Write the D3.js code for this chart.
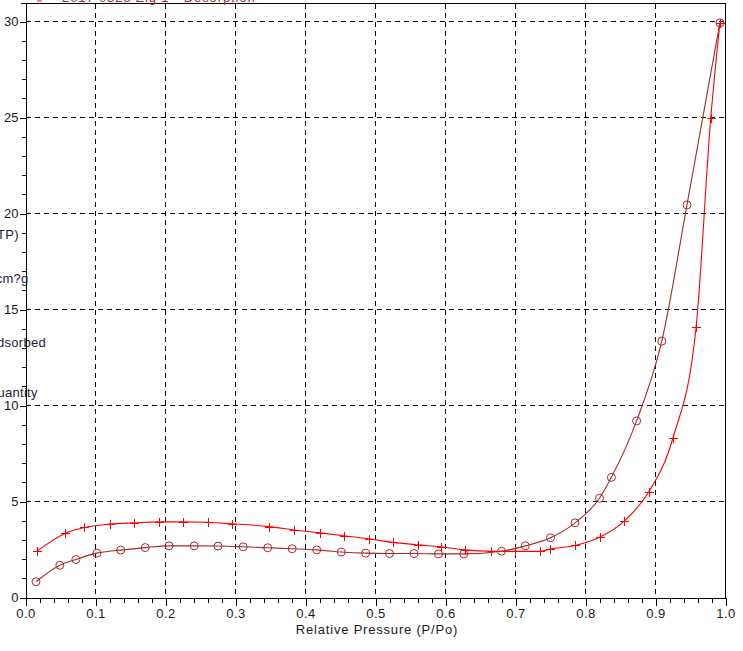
<!DOCTYPE html>
<html>
<head>
<meta charset="utf-8">
<script src="https://cdn.jsdelivr.net/npm/d3@7"></script>
<style>
  html, body { margin: 0; padding: 0; background: #fff; }
  svg { display: block; font-family: "Liberation Sans", Arial, sans-serif; }
  .grid-line { stroke: #000; stroke-width: 1; stroke-dasharray: 5,4; shape-rendering: crispEdges; }
  .frame { stroke: #000; stroke-width: 1; shape-rendering: crispEdges; }
  .axis path, .axis line { stroke: #000; shape-rendering: crispEdges; }
  .axis text { fill: #1a1a1a; font-size: 13px; font-family: "Liberation Sans", Arial, sans-serif; }
</style>
</head>
<body>
<div id="chart"></div>
<script>
// ── Data ────────────────────────────────────────────────────
// circle series (brown)
const circlePressure = [0.015, 0.049, 0.072, 0.102, 0.136, 0.171, 0.205, 0.241, 0.275, 0.311,
                        0.346, 0.381, 0.416, 0.451, 0.486, 0.520, 0.555, 0.590, 0.626, 0.680,
                        0.714, 0.750, 0.785, 0.820, 0.837, 0.873, 0.909, 0.945, 0.992];
const circleQuantity = [0.82, 1.68, 1.98, 2.31, 2.47, 2.60, 2.69, 2.69, 2.68, 2.64,
                        2.59, 2.54, 2.48, 2.37, 2.31, 2.29, 2.29, 2.27, 2.27, 2.41,
                        2.69, 3.11, 3.89, 5.17, 6.26, 9.20, 13.35, 20.45, 29.93];
// cross series (red)
const crossPressure = [0.016, 0.057, 0.084, 0.120, 0.155, 0.190, 0.225, 0.260, 0.295, 0.348,
                       0.384, 0.420, 0.455, 0.490, 0.525, 0.560, 0.593, 0.628, 0.665, 0.699,
                       0.735, 0.749, 0.785, 0.820, 0.855, 0.890, 0.925, 0.958, 0.979, 0.992];
const crossQuantity = [2.40, 3.35, 3.65, 3.82, 3.89, 3.94, 3.94, 3.92, 3.84, 3.69,
                       3.52, 3.37, 3.22, 3.06, 2.87, 2.74, 2.64, 2.48, 2.41, 2.40,
                       2.40, 2.52, 2.71, 3.14, 3.97, 5.48, 8.32, 14.08, 25.0, 29.93];

const xMajorTicks = [0, 0.1, 0.2, 0.3, 0.4, 0.5, 0.6, 0.7, 0.8, 0.9, 1.0];
const yMajorTicks = [0, 5, 10, 15, 20, 25, 30];
const yTitleWords = ["Quantity", "Adsorbed", "(cm?g", "STP)"];
const xTitle = "Relative Pressure (P/Po)";
const legendText = "2017 0328 Zig 1 - Desorption";

// ── Layout ─────────────────────────────────────────────────
const W = 743, H = 651;
const circleColor = "#a52a2a";
const crossColor  = "#ff0000";

const x = d3.scaleLinear().domain([0, 1]).range([25.5, 725.5]);
const y = d3.scaleLinear().domain([0, 30.94]).range([597.5, 3.5]);

const svg = d3.select("#chart").append("svg")
  .attr("width", W).attr("height", H);

// grid
svg.selectAll(".gx").data(xMajorTicks.filter(d => d > 0 && d < 1))
  .join("line").attr("class", "grid-line")
  .attr("x1", d => x(d)).attr("x2", d => x(d))
  .attr("y1", y.range()[1]).attr("y2", y.range()[0]);
svg.selectAll(".gy").data(yMajorTicks.filter(d => d > 0))
  .join("line").attr("class", "grid-line")
  .attr("x1", x.range()[0]).attr("x2", x.range()[1])
  .attr("y1", d => y(d)).attr("y2", d => y(d));

// frame (top + right)
svg.append("line").attr("class", "frame")
  .attr("x1", 21).attr("x2", x.range()[1])
  .attr("y1", y.range()[1]).attr("y2", y.range()[1]);
svg.append("line").attr("class", "frame")
  .attr("x1", x.range()[1]).attr("x2", x.range()[1])
  .attr("y1", y.range()[1]).attr("y2", y.range()[0]);

// x axis: minor + major
const xMinor = d3.range(0, 51).map(i => i / 50).filter(d => Math.round(d * 50) % 5 !== 0);
svg.append("g").attr("class", "axis")
  .attr("transform", `translate(0,${y(0)})`)
  .call(d3.axisBottom(x).tickValues(xMinor).tickSize(5).tickFormat(""))
  .call(g => g.select(".domain").remove());
svg.append("g").attr("class", "axis")
  .attr("transform", `translate(0,${y(0)})`)
  .call(d3.axisBottom(x).tickValues(xMajorTicks).tickSize(8).tickPadding(3)
        .tickFormat(d3.format(".1f")).tickSizeOuter(0))
  .call(g => g.selectAll("text").attr("letter-spacing", "0.4px"));

// y axis: minor + major
const yMinor = d3.range(0, 31).filter(d => d % 5 !== 0);
svg.append("g").attr("class", "axis")
  .attr("transform", `translate(${x(0)},0)`)
  .call(d3.axisLeft(y).tickValues(yMinor).tickSize(4).tickFormat(""))
  .call(g => g.select(".domain").remove());
svg.append("g").attr("class", "axis")
  .attr("transform", `translate(${x(0)},0)`)
  .call(d3.axisLeft(y).tickValues(yMajorTicks).tickSize(6).tickPadding(1).tickSizeOuter(0));

// axis titles
svg.append("text")
  .attr("x", 377).attr("y", 634)
  .attr("text-anchor", "middle")
  .attr("font-size", 13).attr("letter-spacing", "0.8px")
  .attr("fill", "#1a1a1a")
  .text(xTitle);

const titleX = [-13, -12, -9, -12];
const titleY = [397, 347, 283, 239];
svg.selectAll(".ytitle").data(yTitleWords)
  .join("text")
  .attr("x", (d, i) => titleX[i]).attr("y", (d, i) => titleY[i])
  .attr("font-size", 13).attr("letter-spacing", "0.3px")
  .attr("fill", "#1a1a3a")
  .text(d => d);

// legend (mostly cut off at top)
svg.append("line")
  .attr("x1", 37).attr("x2", 42).attr("y1", 1).attr("y2", 1)
  .attr("stroke", circleColor);
svg.append("text")
  .attr("x", 62).attr("y", 2)
  .attr("font-size", 13).attr("letter-spacing", "0.9px")
  .attr("fill", circleColor)
  .text(legendText);

// ── Series ─────────────────────────────────────────────────
const circleData = circlePressure.map((p, i) => ({ p, q: circleQuantity[i] }));
const crossData  = crossPressure.map((p, i) => ({ p, q: crossQuantity[i] }));

const line = d3.line()
  .x(d => x(d.p)).y(d => y(d.q))
  .curve(d3.curveMonotoneX);

svg.append("path").datum(circleData)
  .attr("d", line).attr("fill", "none")
  .attr("stroke", circleColor).attr("stroke-width", 1.1);
svg.append("path").datum(crossData)
  .attr("d", line).attr("fill", "none")
  .attr("stroke", crossColor).attr("stroke-width", 1.1);

svg.selectAll(".circ").data(circleData)
  .join("circle")
  .attr("cx", d => x(d.p)).attr("cy", d => y(d.q)).attr("r", 4)
  .attr("fill", "none").attr("stroke", circleColor).attr("stroke-width", 1);

const cs = 4.5;
svg.selectAll(".cross").data(crossData)
  .join("path")
  .attr("d", d => {
    const cx = Math.round(x(d.p)) + 0.5, cy = Math.round(y(d.q)) + 0.5;
    return `M${cx - cs},${cy}H${cx + cs}M${cx},${cy - cs}V${cy + cs}`;
  })
  .attr("stroke", crossColor).attr("stroke-width", 1)
  .attr("shape-rendering", "crispEdges");
</script>
</body>
</html>
